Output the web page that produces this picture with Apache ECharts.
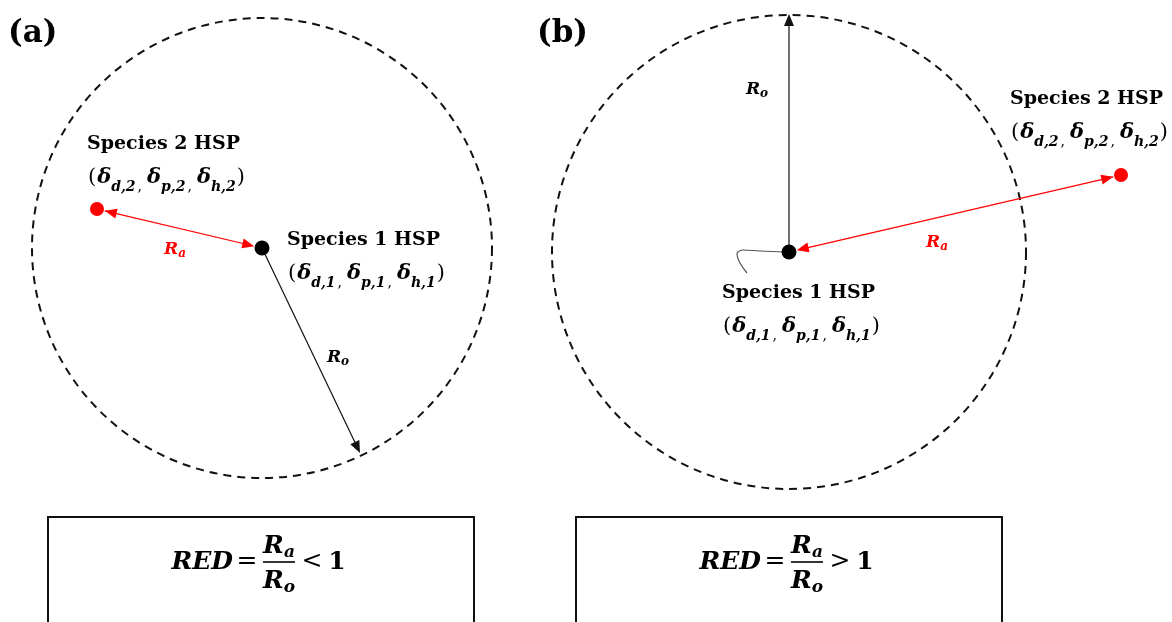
<!DOCTYPE html>
<html><head><meta charset="utf-8">
<script src="https://cdn.jsdelivr.net/npm/echarts@6/dist/echarts.min.js"></script>
<style>html,body{margin:0;padding:0;background:#fff}#c{width:1172px;height:622px}</style>
</head><body><div id="c"></div>
<script>
// Diagram coordinate space (data units): x 0..1172, y 0..622 (downward)
const panelNames = ['(a)', '(b)'];
const panelLabelAt = [[8, 18], [537, 18]];
const species1 = [[262, 248], [789, 252]];          // Species 1 HSP points (circle centres)
const species2 = [[97, 209], [1121, 175]];          // Species 2 HSP points
const interactionRadius = [230, 237];               // R_o of each panel
const roTips = [[360, 453], [789, 14]];             // end of the R_o arrows on the sphere
const raLabelAt = [[175, 250], [937, 243]];
const roLabelAt = [[338, 358], [757, 90]];
const sp1LabelAt = [[287, 224], [722, 277]];
const sp2LabelAt = [[87, 128], [1010, 83]];
const squiggle = [[786, 252], [760, 251], [743, 250], [737, 254], [740, 263], [747, 273]];
const boxes = [[48, 517, 474, 640], [576, 517, 1002, 640]];
const formulaAt = [[279, 562], [807, 562]];
const relations = ['<', '>'];

const SERIF = '"DejaVu Serif", "Liberation Serif", serif';
const INK = '#000';

function hspText(n) {
  return '{b|Species ' + n + ' HSP}\n' +
    '{p|(}{m|δ}{s|d,' + n + '}{c|,}{m|δ}{s|p,' + n + '}{c|,}{m|δ}{s|h,' + n + '}{p|)}';
}
const hspRich = {
  b: {fontFamily: SERIF, fontWeight: 'bold', fontSize: 19, lineHeight: 33, color: INK},
  p: {fontFamily: SERIF, fontSize: 21, lineHeight: 33, color: INK, padding: [0, 1, 0, 1]},
  m: {fontFamily: SERIF, fontWeight: 'bold', fontStyle: 'italic', fontSize: 21, lineHeight: 33, color: INK},
  s: {fontFamily: SERIF, fontWeight: 'bold', fontStyle: 'italic', fontSize: 14, lineHeight: 19, verticalAlign: 'bottom', color: INK},
  c: {fontFamily: SERIF, fontSize: 14, lineHeight: 19, verticalAlign: 'bottom', color: INK, padding: [0, 5, 0, 2]}
};
function rLabelRich(color) {
  return {
    R: {fontFamily: SERIF, fontWeight: 'bold', fontStyle: 'italic', fontSize: 17, lineHeight: 20, color: color},
    u: {fontFamily: SERIF, fontWeight: 'bold', fontStyle: 'italic', fontSize: 12, lineHeight: 12, verticalAlign: 'bottom', color: color}
  };
}

const textItems = [];
panelNames.forEach((t, i) => textItems.push({value: panelLabelAt[i], label: {formatter: t, fontFamily: SERIF, fontWeight: 'bold', fontSize: 31, color: INK}}));
[0, 1].forEach(i => {
  textItems.push({value: sp1LabelAt[i], label: {formatter: hspText(1), rich: hspRich}});
  textItems.push({value: sp2LabelAt[i], label: {formatter: hspText(2), rich: hspRich}});
  textItems.push({value: raLabelAt[i], label: {formatter: '{R|R}{u|a}', rich: rLabelRich('#ff0000'), align: 'center', verticalAlign: 'middle'}});
  textItems.push({value: roLabelAt[i], label: {formatter: '{R|R}{u|o}', rich: rLabelRich(INK), align: 'center', verticalAlign: 'middle'}});
});

function arrowRender(color, lineWidth) {
  return function (params, api) {
    let a = api.coord([api.value(0), api.value(1)]);
    let b = api.coord([api.value(2), api.value(3)]);
    const both = api.value(4) === 2;
    const dx = b[0] - a[0], dy = b[1] - a[1];
    const L = Math.hypot(dx, dy), ux = dx / L, uy = dy / L;
    const gap = both ? 8 : 0;
    a = [a[0] + ux * gap, a[1] + uy * gap];
    b = [b[0] - ux * gap, b[1] - uy * gap];
    const hl = 12, hw = 5;
    function head(tip, dirx, diry) {
      const bx = tip[0] - dirx * hl, by = tip[1] - diry * hl;
      return {type: 'polygon', shape: {points: [tip, [bx - diry * hw, by + dirx * hw], [bx + diry * hw, by - dirx * hw]]}, style: {fill: color}};
    }
    const kids = [{type: 'line', shape: {x1: a[0], y1: a[1], x2: b[0] - ux * 6, y2: b[1] - uy * 6}, style: {stroke: color, lineWidth: lineWidth}}];
    kids.push(head(b, ux, uy));
    if (both) kids.push(head(a, -ux, -uy));
    return {type: 'group', children: kids};
  };
}

const roArrows = [0, 1].map(i => [species1[i][0], species1[i][1], roTips[i][0], roTips[i][1], 1]);
const raArrows = [0, 1].map(i => [species2[i][0], species2[i][1], species1[i][0], species1[i][1], 2]);

const chart = echarts.init(document.getElementById('c'), null, {renderer: 'canvas'});
chart.setOption({
  animation: false,
  backgroundColor: '#fff',
  grid: {left: 0, right: 0, top: 0, bottom: 0},
  xAxis: {type: 'value', min: 0, max: 1172, show: false},
  yAxis: {type: 'value', min: 0, max: 622, inverse: true, show: false},
  series: [
    { // dashed solubility spheres
      type: 'custom', silent: true,
      data: [0, 1].map(i => [species1[i][0], species1[i][1], interactionRadius[i]]),
      renderItem: (params, api) => {
        const c = api.coord([api.value(0), api.value(1)]);
        const r = api.size([api.value(2), 0])[0];
        return {type: 'circle', shape: {cx: c[0], cy: c[1], r: r}, style: {fill: 'none', stroke: '#111', lineWidth: 2, lineDash: [8, 6]}};
      }
    },
    { // RED boxes
      type: 'custom', silent: true, data: boxes,
      renderItem: (params, api) => {
        const p = api.coord([api.value(0), api.value(1)]);
        const q = api.coord([api.value(2), api.value(3)]);
        return {type: 'rect', shape: {x: p[0], y: p[1], width: q[0] - p[0], height: q[1] - p[1]}, style: {fill: 'none', stroke: '#111', lineWidth: 2}};
      }
    },
    { // squiggle near species 1 in (b)
      type: 'line', data: squiggle, smooth: 0.4, symbol: 'none', silent: true,
      lineStyle: {color: '#555', width: 1.2}
    },
    {type: 'custom', silent: true, data: roArrows, renderItem: arrowRender('#111', 1.2)},
    {type: 'custom', silent: true, data: raArrows, renderItem: arrowRender('#ff0000', 1.2)},
    { // species points
      type: 'scatter', silent: true, symbolSize: 15, itemStyle: {color: '#000', opacity: 1}, data: species1, z: 5
    },
    {
      type: 'scatter', silent: true, symbolSize: 14, itemStyle: {color: '#ff0000', opacity: 1}, data: species2, z: 5
    },
    { // formulas
      type: 'custom', silent: true, data: formulaAt,
      renderItem: (params, api) => {
        const c = api.coord([api.value(0), api.value(1)]);
        const rel = relations[params.dataIndex];
        const big = {fontFamily: SERIF, fontWeight: 'bold', fontStyle: 'italic', fontSize: 25, fill: INK};
        const subR = {R: {fontFamily: SERIF, fontWeight: 'bold', fontStyle: 'italic', fontSize: 25, lineHeight: 30, color: INK},
                      u: {fontFamily: SERIF, fontWeight: 'bold', fontStyle: 'italic', fontSize: 17, lineHeight: 16, verticalAlign: 'bottom', color: INK}};
        const x = c[0], y = c[1];
        return {type: 'group', children: [
          {type: 'text', x: x - 46, y: y, style: Object.assign({text: 'RED', align: 'right', verticalAlign: 'middle'}, big)},
          {type: 'text', x: x - 32, y: y - 1, style: {text: '=', align: 'center', verticalAlign: 'middle', fontFamily: SERIF, fontSize: 25, fill: INK}},
          {type: 'text', x: x, y: y - 16, style: {text: '{R|R}{u|a}', rich: subR, align: 'center', verticalAlign: 'middle'}},
          {type: 'line', shape: {x1: x - 16, y1: y, x2: x + 16, y2: y}, style: {stroke: INK, lineWidth: 1.6}},
          {type: 'text', x: x, y: y + 19, style: {text: '{R|R}{u|o}', rich: subR, align: 'center', verticalAlign: 'middle'}},
          {type: 'text', x: x + 33, y: y - 1, style: {text: rel, align: 'center', verticalAlign: 'middle', fontFamily: SERIF, fontSize: 25, fill: INK}},
          {type: 'text', x: x + 58, y: y, style: {text: '1', align: 'center', verticalAlign: 'middle', fontFamily: SERIF, fontWeight: 'bold', fontSize: 25, fill: INK}}
        ]};
      }
    },
    { // text labels
      type: 'scatter', silent: true, symbolSize: 0, data: textItems, z: 10,
      itemStyle: {opacity: 1},
      label: {show: true, position: [0, 0], align: 'left', verticalAlign: 'top', color: INK}
    }
  ]
});
</script></body></html>
